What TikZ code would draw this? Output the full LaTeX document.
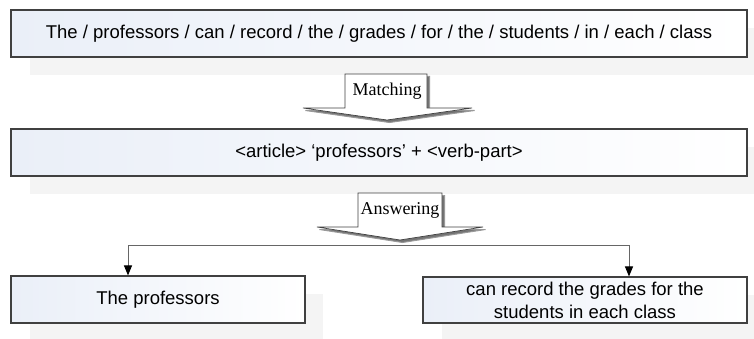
\documentclass[tikz,border=0pt]{standalone}
\usepackage{fontspec}
\setmainfont{Liberation Serif}
\setsansfont{Liberation Sans}
\usetikzlibrary{arrows.meta}
\definecolor{boxtint}{RGB}{234,239,248}
\definecolor{hazegray}{RGB}{244,244,244}
\begin{document}
\begin{tikzpicture}[x=1pt,y=-1pt,
  textbox/.style={draw=black!75,line width=1.1pt,left color=boxtint,right color=white,
    font=\sffamily\fontsize{18.5}{23}\selectfont,align=center,inner sep=0pt},
  haze/.style={fill=hazegray,draw=none},
  tablabel/.style={font=\rmfamily\fontsize{18}{20}\selectfont,inner sep=0pt},
  blockarrow/.style={draw=black!75,fill=white,line width=0.7pt,line join=miter},
  blockshadow/.style={fill=black!55,draw=black!40,line width=1pt},
  link/.style={draw=black!60,line width=1pt,-{Triangle[length=10pt,width=8pt,fill=black,color=black]}}]
\useasboundingbox (0,0) rectangle (754,339);

% soft shadows behind the boxes
\fill[haze] (30,28) rectangle (766,75);
\fill[haze] (30,147) rectangle (766,194);
\fill[haze] (30,294) rectangle (323,341);
\fill[haze] (442,295) rectangle (766,341);

% boxes
\node[textbox,minimum width=736pt,minimum height=47pt] (s) at (379,33.5)
  {The / professors / can / record / the / grades / for / the / students / in / each / class};
\node[textbox,minimum width=736pt,minimum height=47pt] (p) at (379,152.5)
  {<article> ‘professors’ + <verb-part>};
\node[textbox,minimum width=294pt,minimum height=47pt] (a) at (158,299.5) {The professors};
\node[textbox,minimum width=324pt,minimum height=46pt] (b) at (585,300)
  {can record the grades for the\\students in each class};

% block arrow labelled Matching
\fill[blockshadow] (347.5,76.5) -- (429.5,76.5) -- (429.5,110.5) -- (474.5,110.5) -- (389.5,122.5) -- (305.5,110.5) -- (347.5,110.5) -- cycle;
\draw[blockarrow] (345,74) -- (427,74) -- (427,108) -- (472,108) -- (387,120) -- (303,108) -- (345,108) -- cycle;
\node[tablabel] (m) at (387,91) {Matching};

% block arrow labelled Answering
\fill[blockshadow] (360.5,195.5) -- (444.5,195.5) -- (444.5,229.5) -- (485.5,229.5) -- (402.5,242.5) -- (319.5,229.5) -- (360.5,229.5) -- cycle;
\draw[blockarrow] (358,193) -- (442,193) -- (442,227) -- (483,227) -- (400,240) -- (317,227) -- (358,227) -- cycle;
\node[tablabel] (n) at (400,210) {Answering};

% split connector down to both parts
\coordinate (j) at (400,245.5);
\draw[link] (j) -| ([xshift=-30pt]a.north);
\draw[link] (j) -| ([xshift=44pt]b.north);
\end{tikzpicture}
\end{document}
